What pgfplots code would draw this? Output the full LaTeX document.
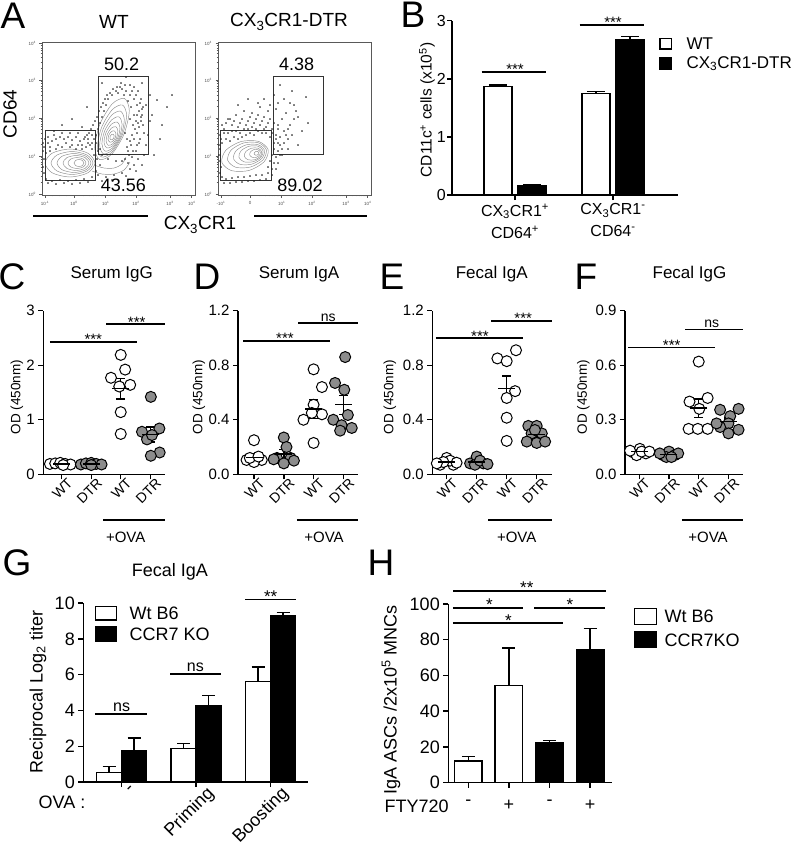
\documentclass[border=0pt]{standalone}
\usepackage{pgfplots}
\pgfplotsset{compat=1.18}
\usepackage{fontspec}
\setmainfont{Liberation Sans}
\newcommand{\fs}[1]{\fontsize{#1}{#1}\selectfont}
\pgfplotsset{
  gp/.style={scale only axis, anchor=south west, clip=false,
    axis x line*=bottom, axis y line*=left,
    axis line style={line width=1.4pt, -},
    tick style={black, line width=1.4pt},
    tick align=outside, major tick length=5pt},
  flow/.style={scale only axis, anchor=south west, width=153pt, height=153pt,
    xmin=0, xmax=153, ymin=0, ymax=153,
    axis line style={black!65, line width=0.8pt},
    tick pos=left, tick align=outside, major tick length=2.5pt, minor tick length=1.3pt,
    tick style={black!65, line width=0.5pt},
    tick label style={font=\fs{4.5}, text=black!70},
    ytick={1,39,77,115,152},
    minor ytick={12.4,19.1,23.9,27.6,30.6,33.1,35.3,37.3,50.4,57.1,61.9,65.6,68.6,71.1,73.3,75.3,88.4,95.1,99.9,103.6,106.6,109.1,111.3,113.3,126.4,133.1,137.9,141.6,144.6,147.1,149.3,151.3},
    minor xtick={10,17,24,41.5,47.1,51.1,54.2,56.7,58.8,60.6,62.2,72.8,78.2,82.0,84.9,87.3,89.3,91.1,92.6,104.2,110.2,114.5,117.8,120.5,122.7,124.7,126.4,134.5,138.4,141.1,143.2,144.9,146.3,147.6,148.7},
    yticklabels={10\textsuperscript{0},10\textsuperscript{1},10\textsuperscript{2},10\textsuperscript{3},10\textsuperscript{4}}},
  dots/.style={only marks, mark=*, mark size=0.5pt, black!85},
  cont/.style={smooth cycle, black!45, line width=0.45pt, no markers},
  contopen/.style={smooth, black!45, line width=0.45pt, no markers},
  gate/.style={black!80, line width=0.9pt, no markers},
  sig/.style={black, line width=1.8pt, no markers},
  openc/.style={only marks, mark=*, mark size=5.5pt, mark options={fill=white, draw=black, line width=1pt}},
  grayc/.style={only marks, mark=*, mark size=5.5pt, mark options={fill=black!45, draw=black, line width=1pt}},
  meanbar/.style={only marks, mark=-, mark size=8.5pt, mark options={line width=1.4pt, black}, black,
    error bars/.cd, y dir=both, y explicit, error bar style={line width=1.4pt, black},
    error mark options={rotate=90, mark size=4.5pt, line width=1.4pt, black}},
  barw/.style={ybar, bar shift=0pt, fill=white, draw=black, line width=1.4pt},
  barb/.style={ybar, bar shift=0pt, fill=black, draw=black, line width=1.4pt},
  errp/.style={error bars/.cd, y dir=plus, y explicit, error bar style={line width=1.4pt, black},
    error mark options={rotate=90, mark size=#1, line width=1.4pt, black}},
  dotax/.style={gp, width=#1, height=163.6pt, ymin=0, xtick={0,1,2,3},
    xticklabels={WT,DTR,WT,DTR},
    xticklabel style={rotate=45, anchor=north east, inner sep=0pt, xshift=5pt, yshift=-2pt, font=\fs{14}},
    yticklabel style={font=\fs{15}}},
}
\tikzset{
  star/.style={font=\fs{15}, anchor=south, yshift=-3pt, inner sep=0pt},
  nst/.style={font=\fs{14}, anchor=south, yshift=1pt, inner sep=1pt},
}
\begin{document}
\begin{tikzpicture}
\useasboundingbox (0pt,0pt) rectangle (800pt,-857pt);

% ---------------- A: WT flow -----------------
\begin{axis}[flow, at={(42pt,-195pt)},
  xtick={3,32,63.7,94,128,149.7},
  xticklabels={10\textsuperscript{-1},10\textsuperscript{0},10\textsuperscript{1},10\textsuperscript{2},10\textsuperscript{3},10\textsuperscript{4}}]
\addplot[dots] coordinates {
(88,100)(92,96)(95,90)(97,84)(99,78)(96,72)(93,66)(90,60)(88,54)(85,48)(90,104)(84,104)(80,106)(76,102)(94,100)(98,92)(100,86)(101,70)(102,62)(98,56)(95,50)(91,44)(87,40)(83,36)(92,80)(94,74)(89,88)(86,94)(82,100)(78,108)(74,104)(70,100)(66,96)(64,90)(62,84)(60,78)(58,72)(56,66)(54,60)(52,56)(50,52)(48,50)
(2,48)(6,52)(10,54)(14,56)(18,58)(22,56)(26,58)(30,55)(34,58)(38,54)(42,56)(46,52)(44,48)(40,50)(36,50)(30,50)(24,52)(16,50)(8,48)(4,42)(2,36)(1,28)(2,22)(4,16)(10,14)(18,15)(26,14)(34,15)(42,16)(50,18)(56,20)(64,18)(72,20)(80,22)(88,26)(92,30)(96,36)(54,24)(58,30)(86,32)
(110,80)(115,95)(120,70)(106,60)(108,100)(125,88)(104,50)(112,40)(20,70)(30,76)(40,68)(12,64)(45,88)(100,112)(84,118)(130,100)(118,56)(60,112)(104,90)(108,74)
(86,44)(89,50)(92,56)(95,62)(97,68)(99,74)(100,80)(101,88)(99,96)(96,104)(92,108)(88,110)(83,110)(79,112)(75,108)(71,106)(68,102)(65,100)(63,96)(61,92)(59,88)(57,84)(55,78)(53,74)(51,70)(49,66)(47,62)(45,60)(43,58)(50,60)(46,56)(54,52)(58,46)(60,40)(66,36)(74,34)(80,34)(90,38)(94,44)(97,52)(91,70)(88,76)(95,80)(85,56)(83,62)
(6,58)(12,60)(20,62)(28,62)(36,62)(8,44)(14,46)(20,48)(28,48)(34,46)(40,46)(1,44)(1,52)(3,56)(50,46)(52,40)(55,36)(56,44)
(6,12)(14,11)(22,12)(30,11)(38,12)(46,13)(60,14)(70,15)(84,19)(94,24)(100,30)(102,40)};
% lower population
\addplot[cont] coordinates {(53,32)(45.7,41.9)(28,46)(10.3,41.9)(3,32)(10.3,22.1)(28,18)(45.7,22.1)};
\addplot[cont] coordinates {(51,32)(44.8,40.1)(30,43.5)(15.2,40.1)(9,32)(15.2,23.9)(30,20.5)(44.8,23.9)};
\addplot[cont] coordinates {(49,32)(44,38.7)(32,41.5)(20,38.7)(15,32)(20,25.3)(32,22.5)(44,25.3)};
\addplot[cont] coordinates {(47,32)(43.2,37.3)(34,39.5)(24.8,37.3)(21,32)(24.8,26.7)(34,24.5)(43.2,26.7)};
\addplot[cont] coordinates {(44,32)(41.4,35.9)(35,37.5)(28.6,35.9)(26,32)(28.6,28.1)(35,26.5)(41.4,28.1)};
\addplot[cont] coordinates {(42,32)(40.5,34.5)(37,35.5)(33.5,34.5)(32,32)(33.5,29.5)(37,28.5)(40.5,29.5)};
% upper population
\addplot[cont] coordinates {(82.4,96.6)(70.2,91.1)(57.95,70.9)(52.7,47.8)(57.6,35.4)(69.8,40.9)(82.05,61.1)(87.3,84.2)};
\addplot[cont] coordinates {(80.5,90.0)(70.2,85.3)(59.8,68.1)(55.4,48.6)(59.5,38.0)(69.8,42.7)(80.2,59.9)(84.6,79.4)};
\addplot[cont] coordinates {(78.6,83.8)(69.9,80.1)(61.2,66.1)(57.7,50.0)(61.4,41.2)(70.1,44.9)(78.8,58.9)(82.3,75.1)};
\addplot[cont] coordinates {(76.9,78.2)(69.7,75.2)(62.6,64.0)(59.9,51.0)(63.1,43.9)(70.3,46.8)(77.4,58.0)(80.1,71.0)};
\addplot[cont] coordinates {(75.3,73.0)(69.5,70.9)(64.0,62.4)(62.0,52.5)(64.8,47.0)(70.6,49.1)(76.0,57.6)(78.0,67.5)};
\addplot[cont] coordinates {(73.8,68.3)(69.4,66.9)(65.4,60.9)(64.1,53.8)(66.3,49.7)(70.6,51.1)(74.6,57.1)(75.9,64.2)};
\addplot[cont] coordinates {(72.3,64.1)(69.3,63.4)(66.8,59.8)(66.1,55.5)(67.8,52.9)(70.7,53.6)(73.2,57.2)(73.9,61.5)};
\addplot[cont] coordinates {(71.1,60.8)(69.5,60.5)(68.2,58.8)(67.9,56.6)(68.9,55.2)(70.5,55.5)(71.9,57.3)(72.1,59.4)};
\addplot[contopen] coordinates {(50,24)(60,21)(72,21)(82,25)(88,33)};
\addplot[contopen] coordinates {(52,30)(62,27)(72,27)(80,31)(84,38)};
\addplot[gate] coordinates {(3,15)(53,15)(53,65)(3,65)(3,15)};
\addplot[gate] coordinates {(56.3,40.7)(106.3,40.7)(106.3,119)(56.3,119)(56.3,40.7)};
\end{axis}

% ---------------- A: DTR flow -----------------
\begin{axis}[flow, at={(218pt,-195pt)},
  xtick={3,32,63.7,94,128,149.7},
  xticklabels={-10\textsuperscript{1},0,10\textsuperscript{1},10\textsuperscript{2},10\textsuperscript{3},10\textsuperscript{4}}]
\addplot[dots] coordinates {
(2,60)(6,66)(10,62)(14,70)(18,64)(22,72)(26,66)(30,74)(34,68)(38,76)(42,70)(46,78)(50,72)(54,66)(58,60)(56,52)(52,58)(48,62)(44,62)(40,64)(36,60)(32,62)(28,60)(24,58)(20,56)(16,58)(12,54)(8,56)(4,52)(2,46)(1,40)(2,34)(3,28)(2,22)(4,18)(8,16)(14,17)(20,18)(26,18)(32,19)(38,20)(44,20)(50,22)(54,26)(56,32)(58,38)(60,44)(62,50)(56,46)(54,40)(52,34)(50,28)
(60,70)(64,76)(68,82)(58,86)(50,84)(42,88)(34,82)(26,84)(18,80)(10,76)(66,64)(70,56)(72,70)(76,90)(80,78)(84,64)(66,96)(56,100)(74,104)(62,110)(88,98)(46,96)(30,96)(80,50)(90,72)(70,46)(64,40)(20,90)
(4,70)(8,72)(12,76)(16,74)(20,68)(24,76)(28,70)(32,78)(36,72)(40,80)(44,74)(48,68)(52,76)(56,72)(60,66)(62,58)(60,52)(58,56)(54,62)(46,66)(38,66)(30,66)(22,62)(14,64)(6,62)(3,56)(1,50)(58,26)(60,32)(62,40)(64,46)(66,52)(68,60)(6,12)(12,12)(18,13)(24,13)(30,14)(36,14)(42,15)(48,16)(54,20)(70,66)(74,60)(76,76)(78,84)(72,92)(60,92)(52,90)(40,92)};
\addplot[cont] coordinates {(50.2,45.2)(40.6,53.6)(23.1,53.5)(7.9,44.8)(3.8,32.8)(13.4,24.4)(30.9,24.5)(46.1,33.2)};
\addplot[cont] coordinates {(48.3,45.2)(40.4,52.2)(25.8,52.1)(13.1,44.9)(9.7,34.8)(17.6,27.8)(32.2,27.9)(45.0,35.1)};
\addplot[cont] coordinates {(46.5,44.6)(40.1,50.3)(28.4,50.2)(18.2,44.4)(15.5,36.4)(21.9,30.7)(33.6,30.8)(43.8,36.6)};
\addplot[cont] coordinates {(45.1,44.2)(40.1,48.8)(30.9,48.7)(23.0,44.2)(20.9,37.8)(25.9,33.2)(35.1,33.3)(43.0,37.8)};
\addplot[cont] coordinates {(43.7,43.3)(40.1,46.8)(33.5,46.8)(27.8,43.5)(26.3,38.7)(29.9,35.3)(36.6,35.2)(42.3,38.6)};
\addplot[cont] coordinates {(42.3,42.9)(40.0,45.2)(36.0,45.4)(32.5,43.2)(31.7,40.1)(34.0,37.8)(38.0,37.6)(41.5,39.8)};
\addplot[cont] coordinates {(40.9,42.3)(39.6,43.6)(38.0,43.6)(36.5,42.5)(36.1,41.1)(37.4,39.8)(39.0,39.8)(40.5,40.9)};
\addplot[gate] coordinates {(2,15)(53.7,15)(53.7,65)(2,65)(2,15)};
\addplot[gate] coordinates {(55.3,40.7)(105.3,40.7)(105.3,119)(55.3,119)(55.3,40.7)};
\end{axis}

% ---------------- B -----------------
\begin{axis}[gp, at={(452pt,-195pt)}, width=226pt, height=174.3pt,
  xmin=-0.643, xmax=1.663, ymin=0, ymax=3,
  ytick={0,1,2,3}, yticklabels={0,1,2,3},
  xtick={0,1},
  xticklabels={{CX\textsubscript{3}CR1\textsuperscript{+}\\CD64\textsuperscript{+}},{CX\textsubscript{3}CR1\textsuperscript{-}\\CD64\textsuperscript{-}}},
  xticklabel style={align=center, font=\fontsize{16}{22}\selectfont},
  yticklabel style={font=\fs{16}, inner sep=1pt}]
\addplot[barw, bar width=28pt, errp=9pt] coordinates {(-0.175,1.87) +- (0,0.02) (0.825,1.75) +- (0,0.03)};
\addplot[barb, bar width=28pt, errp=9pt] coordinates {(0.175,0.16) +- (0,0.02) (1.175,2.68) +- (0,0.05)};
\addplot[sig] coordinates {(-0.34,2.12) (0.32,2.12)};
\addplot[sig] coordinates {(0.66,2.93) (1.32,2.93)};
\node[star] at (axis cs:0,2.12) {***};
\node[star] at (axis cs:1,2.93) {***};
\end{axis}

% ---------------- C -----------------
\begin{axis}[dotax=121.7pt, at={(43.3pt,-474.3pt)}, xmin=-0.624, xmax=3.5, ymax=3,
  ytick={0,1,2,3}, yticklabels={0,1,2,3}]
\addplot[openc] coordinates {(-0.4,0.19)(-0.22,0.2)(-0.05,0.21)(0.12,0.19)(0.3,0.18)(0.05,0.17)};
\addplot[grayc] coordinates {(0.65,0.18)(0.82,0.2)(1.0,0.21)(1.17,0.19)(1.35,0.18)(1.0,0.17)};
\addplot[openc] coordinates {(2.0,2.19)(1.67,1.77)(2.15,1.92)(2.32,1.64)(1.95,1.61)(2.0,1.14)(2.0,0.74)};
\addplot[grayc] coordinates {(3.02,1.42)(3.31,0.84)(2.72,0.78)(2.89,0.64)(3.06,0.72)(3.32,0.40)(3.02,0.34)};
\addplot[meanbar] coordinates {(0,0.19)+-(0,0.01) (1,0.19)+-(0,0.01) (2,1.57)+-(0,0.19) (3,0.73)+-(0,0.14)};
\addplot[sig] coordinates {(-0.4,2.43) (2.55,2.43)};
\addplot[sig] coordinates {(1.51,2.75) (3.5,2.75)};
\node[star] at (axis cs:1.07,2.43) {***};
\node[star] at (axis cs:2.54,2.75) {***};
\addplot[sig] coordinates {(1.4,-0.838) (3.5,-0.838)};
\end{axis}

% ---------------- D -----------------
\begin{axis}[dotax=120.3pt, at={(238pt,-474.3pt)}, xmin=-0.537, xmax=3.5, ymax=1.2,
  ytick={0,0.4,0.8,1.2}, yticklabels={0.0,0.4,0.8,1.2}]
\addplot[openc] coordinates {(0,0.25)(-0.25,0.105)(0.26,0.105)(0,0.09)(-0.14,0.12)(0.15,0.13)};
\addplot[grayc] coordinates {(1,0.27)(1.09,0.2)(0.77,0.12)(1.23,0.12)(1,0.08)(1.34,0.1)(0.66,0.11)};
\addplot[openc] coordinates {(2,0.77)(2.28,0.64)(2,0.51)(2.28,0.44)(1.66,0.40)(1.94,0.45)(2,0.23)};
\addplot[grayc] coordinates {(3.06,0.86)(2.72,0.67)(3.03,0.62)(2.66,0.40)(3.15,0.435)(2.94,0.36)(3.28,0.34)(2.89,0.32)};
\addplot[meanbar] coordinates {(0,0.125)+-(0,0.025) (1,0.15)+-(0,0.03) (2,0.48)+-(0,0.07) (3,0.51)+-(0,0.07)};
\addplot[sig] coordinates {(-0.36,0.978) (2.56,0.978)};
\addplot[sig] coordinates {(1.49,1.107) (3.5,1.107)};
\node[star] at (axis cs:1.04,0.978) {***};
\node[nst] at (axis cs:2.49,1.107) {ns};
\addplot[sig] coordinates {(1.44,-0.335) (3.5,-0.335)};
\end{axis}

% ---------------- E -----------------
\begin{axis}[dotax=119.4pt, at={(432.3pt,-474.3pt)}, xmin=-0.48, xmax=3.5, ymax=1.2,
  ytick={0,0.4,0.8,1.2}, yticklabels={0.0,0.4,0.8,1.2}]
\addplot[openc] coordinates {(-0.22,0.07)(0,0.12)(0.22,0.07)(0.11,0.10)(-0.11,0.09)(-0.33,0.08)(0.33,0.085)};
\addplot[grayc] coordinates {(0.78,0.08)(1.0,0.13)(1.22,0.08)(0.94,0.07)(1.11,0.1)(1.36,0.075)};
\addplot[openc] coordinates {(2.31,0.91)(1.69,0.85)(2.0,0.83)(2.28,0.61)(2.0,0.56)(2.0,0.415)(2.0,0.245)};
\addplot[grayc] coordinates {(2.72,0.355)(3.0,0.355)(2.83,0.30)(3.17,0.30)(2.67,0.24)(3.0,0.23)(3.28,0.24)(2.94,0.325)};
\addplot[meanbar] coordinates {(0,0.09)+-(0,0.01) (1,0.09)+-(0,0.01) (2,0.63)+-(0,0.09) (3,0.29)+-(0,0.02)};
\addplot[sig] coordinates {(-0.36,0.997) (2.53,0.997)};
\addplot[sig] coordinates {(1.49,1.124) (3.5,1.124)};
\node[star] at (axis cs:1.11,0.997) {***};
\node[star] at (axis cs:2.55,1.124) {***};
\addplot[sig] coordinates {(1.38,-0.335) (3.5,-0.335)};
\end{axis}

% ---------------- F -----------------
\begin{axis}[dotax=118.3pt, at={(625pt,-474.3pt)}, xmin=-0.48, xmax=3.5, ymax=0.9,
  ytick={0,0.3,0.6,0.9}, yticklabels={0.0,0.3,0.6,0.9}]
\addplot[openc] coordinates {(-0.2,0.12)(0.02,0.14)(0.22,0.115)(-0.09,0.105)(0.08,0.125)(-0.31,0.13)(0.34,0.125)};
\addplot[grayc] coordinates {(0.8,0.105)(1.0,0.125)(1.19,0.105)(0.91,0.095)(1.31,0.115)(0.69,0.115)(1.08,0.095)};
\addplot[openc] coordinates {(2,0.62)(1.69,0.40)(2.3,0.42)(2.02,0.36)(1.66,0.25)(1.97,0.25)(2.3,0.25)};
\addplot[grayc] coordinates {(3.34,0.36)(2.72,0.355)(3.06,0.32)(3.0,0.28)(2.72,0.26)(3.34,0.245)(3.0,0.225)(2.6,0.28)};
\addplot[meanbar] coordinates {(0,0.125)+-(0,0.006) (1,0.11)+-(0,0.006) (2,0.364)+-(0,0.05) (3,0.29)+-(0,0.02)};
\addplot[sig] coordinates {(-0.37,0.698) (2.55,0.698)};
\addplot[sig] coordinates {(1.54,0.797) (3.5,0.797)};
\node[star] at (axis cs:1.09,0.698) {***};
\node[nst] at (axis cs:2.44,0.797) {ns};
\addplot[sig] coordinates {(1.43,-0.251) (3.5,-0.251)};
\end{axis}

% ---------------- G -----------------
\begin{axis}[gp, at={(83.3pt,-782pt)}, width=225pt, height=179pt,
  xmin=-0.515, xmax=2.505, ymin=0, ymax=10,
  ytick={0,2,4,6,8,10}, yticklabels={0,2,4,6,8,10},
  xtick={0,1,2}, xticklabels={-,Priming,Boosting},
  xticklabel style={rotate=45, anchor=north east, inner sep=0pt, xshift=8pt, yshift=-5pt, font=\fs{18}},
  yticklabel style={font=\fs{18}}]
\addplot[barw, bar width=25pt, errp=6.5pt] coordinates {(-0.168,0.52)+-(0,0.35) (0.832,1.86)+-(0,0.28) (1.832,5.62)+-(0,0.80)};
\addplot[barb, bar width=25pt, errp=6.5pt] coordinates {(0.168,1.73)+-(0,0.73) (1.168,4.28)+-(0,0.56) (2.168,9.27)+-(0,0.19)};
\addplot[sig] coordinates {(-0.36,3.78) (0.34,3.78)};
\addplot[sig] coordinates {(0.65,6.05) (1.33,6.05)};
\addplot[sig] coordinates {(1.66,10.2) (2.34,10.2)};
\node[nst, font=\fs{16}] at (axis cs:0,3.78) {ns};
\node[nst, font=\fs{16}] at (axis cs:0.99,6.05) {ns};
\node[star, font=\fs{17}] at (axis cs:2,10.2) {**};
\end{axis}

% ---------------- H -----------------
\begin{axis}[gp, at={(448.3pt,-782.5pt)}, width=163.4pt, height=178.5pt,
  xmin=-0.493, xmax=3.53, ymin=0, ymax=100,
  ytick={0,20,40,60,80,100}, yticklabels={0,20,40,60,80,100},
  xtick={0,1,2,3}, xticklabels={-,+,-,+},
  xticklabel style={font=\fs{18}, yshift=-9pt},
  yticklabel style={font=\fs{18}}]
\addplot[barw, bar width=27.5pt, errp=6.5pt] coordinates {(0,12)+-(0,2.7) (1,54.3)+-(0,21)};
\addplot[barb, bar width=27.5pt, errp=6.5pt] coordinates {(2,22.5)+-(0,1.1) (3,74.5)+-(0,11.7)};
\addplot[sig] coordinates {(-0.37,107.3) (3.38,107.3)};
\addplot[sig] coordinates {(-0.38,97.9) (1.35,97.9)};
\addplot[sig] coordinates {(1.62,97.9) (3.36,97.9)};
\addplot[sig] coordinates {(-0.38,89.2) (2.34,89.2)};
\node[star, font=\fs{17}] at (axis cs:1.44,107.3) {**};
\node[star, font=\fs{17}] at (axis cs:0.52,97.9) {*};
\node[star, font=\fs{17}] at (axis cs:2.5,97.9) {*};
\node[star, font=\fs{17}] at (axis cs:0.99,89.2) {*};
\end{axis}

% ---------------- texts -----------------
\foreach \t/\x/\y in {A/13/16, B/413/15, C/12/277, D/207/277, E/392/277, F/586/277, G/17/563, H/381/563}
  \node[font=\fs{37}] at (\x pt,-\y pt) {\t};
\node[font=\fs{19}] at (114pt,-22pt) {WT};
\node[font=\fs{19}] at (289pt,-22pt) {CX\textsubscript{3}CR1-DTR};
\node[font=\fs{19}, rotate=90] at (10pt,-114pt) {CD64};
\node[font=\fs{19}] at (200pt,-225pt) {CX\textsubscript{3}CR1};
\draw[line width=1.1pt] (33pt,-216pt) -- (148pt,-216pt);
\draw[line width=1.1pt] (254pt,-216pt) -- (367pt,-216pt);
\node[font=\fs{18}] at (121.7pt,-64pt) {50.2};
\node[font=\fs{18}] at (123.3pt,-185.7pt) {43.56};
\node[font=\fs{18}] at (296.7pt,-64pt) {4.38};
\node[font=\fs{18}] at (300pt,-185.7pt) {89.02};
% B labels and legend
\node[font=\fs{15.5}, rotate=90] at (427pt,-110pt) {CD11c\textsuperscript{+} cells (x10\textsuperscript{5})};
\draw[line width=1.2pt, fill=white] (660pt,-38.3pt) rectangle (671.7pt,-49pt);
\draw[line width=1.2pt, fill=black] (660pt,-57.7pt) rectangle (671.7pt,-69pt);
\node[font=\fs{17}, anchor=west] at (683pt,-43.5pt) {WT};
\node[font=\fs{17}, anchor=west] at (683pt,-63.5pt) {CX\textsubscript{3}CR1-DTR};
% C-F titles / labels
\node[font=\fs{17}] at (111.7pt,-274pt) {Serum IgG};
\node[font=\fs{17}] at (299pt,-274pt) {Serum IgA};
\node[font=\fs{17}] at (491.7pt,-274pt) {Fecal IgA};
\node[font=\fs{17}] at (689.5pt,-274pt) {Fecal IgG};
\foreach \x in {17,199,390,583.5}
  \node[font=\fs{13.5}, rotate=90] at (\x pt,-397pt) {OD (450nm)};
\foreach \x in {125.7,324,516.7,708}
  \node[font=\fs{15}] at (\x pt,-537pt) {+OVA};
% G labels
\node[font=\fs{18}] at (170pt,-572pt) {Fecal IgA};
\node[font=\fs{18}, rotate=90] at (38pt,-692pt) {Reciprocal Log\textsubscript{2} titer};
\node[font=\fs{18}] at (62pt,-802.5pt) {OVA :};
\draw[line width=1.2pt, fill=white] (95.7pt,-606.7pt) rectangle (116.7pt,-620pt);
\draw[line width=1.2pt, fill=black] (95.7pt,-627pt) rectangle (116.7pt,-641.5pt);
\node[font=\fs{18}, anchor=west] at (126pt,-613.5pt) {Wt B6};
\node[font=\fs{18}, anchor=west] at (126pt,-634.5pt) {CCR7 KO};
% H labels
\node[font=\fs{18}, rotate=90] at (391pt,-700pt) {IgA ASCs /2x10\textsuperscript{5} MNCs};
\node[font=\fs{18}] at (416.7pt,-806.7pt) {FTY720};
\draw[line width=1.2pt, fill=white] (634.3pt,-608.3pt) rectangle (656.7pt,-624.3pt);
\draw[line width=1.2pt, fill=black] (634.3pt,-631.7pt) rectangle (656.7pt,-647.7pt);
\node[font=\fs{18}, anchor=west] at (661pt,-616.7pt) {Wt B6};
\node[font=\fs{18}, anchor=west] at (661pt,-640pt) {CCR7KO};
\end{tikzpicture}
\end{document}
